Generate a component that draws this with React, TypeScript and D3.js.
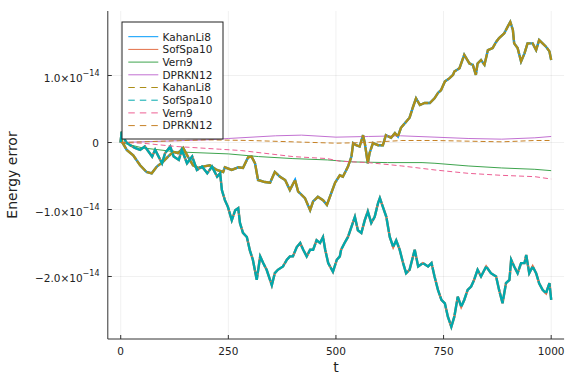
import React from 'react';
import * as d3 from 'd3';

const W = 576;
const H = 384;

// energy error, in units of 1e-14 as [t, value]
const kahanLi8: [number, number][] = [
  [0, 0], [2, 0.16], [3, 0.01], [14, -0.11], [29, -0.19], [45, -0.34], [60, -0.44], [72, -0.46],
  [84, -0.36], [98, -0.29], [110, -0.21], [122, -0.14], [133, -0.16], [145, -0.08], [156, -0.21],
  [168, -0.34], [180, -0.38], [191, -0.36], [207, -0.34], [223, -0.41], [238, -0.44], [242, -0.37],
  [258, -0.41], [273, -0.37], [284, -0.38], [296, -0.22], [304, -0.21], [312, -0.31], [319, -0.56],
  [335, -0.59], [347, -0.6], [358, -0.44], [370, -0.51], [382, -0.56], [393, -0.71], [405, -0.56],
  [412, -0.73], [428, -0.83], [440, -1.01], [447, -0.88], [458, -0.81], [470, -0.86], [479, -0.93],
  [486, -0.81], [498, -0.6], [509, -0.49], [516, -0.51], [528, -0.36], [536, -0.21], [540, -0.01],
  [547, -0.04], [555, -0.06], [563, 0.11], [567, -0.01], [574, -0.31], [578, -0.16], [586, -0.01],
  [598, -0.04], [609, -0.04], [616, 0.11], [628, 0.07], [637, 0.14], [644, 0.09], [651, 0.22],
  [663, 0.31], [671, 0.37], [679, 0.53], [686, 0.66], [695, 0.56], [706, 0.59], [718, 0.59],
  [729, 0.66], [737, 0.74], [744, 0.78], [753, 0.91], [764, 0.96], [772, 1.01], [775, 1.06],
  [787, 1.11], [798, 1.31], [810, 1.18], [818, 1.16], [825, 1.01], [829, 1.18], [837, 1.23],
  [845, 1.16], [853, 1.38], [864, 1.41], [872, 1.5], [879, 1.56], [891, 1.63], [899, 1.73],
  [905, 1.8], [911, 1.68], [914, 1.48], [922, 1.41], [930, 1.21], [938, 1.33], [945, 1.48],
  [957, 1.48], [965, 1.38], [972, 1.53], [980, 1.48], [988, 1.43], [996, 1.36], [1000, 1.23],
];

const sofSpa10: [number, number][] = [
  [0, 0], [2, 0.16], [12, 0.01], [22, -0.04], [33, -0.08], [45, -0.11], [56, -0.06], [73, -0.21],
  [80, -0.11], [96, -0.31], [103, -0.16], [115, -0.06], [123, -0.21], [135, -0.26], [142, -0.11],
  [154, -0.31], [166, -0.21], [177, -0.41], [189, -0.36], [201, -0.46], [212, -0.36], [224, -0.51],
  [231, -0.46], [235, -0.71], [242, -0.86], [249, -0.96], [258, -1.16], [266, -1.01], [273, -0.98],
  [277, -1.2], [284, -1.35], [293, -1.41], [300, -1.61], [307, -1.75], [316, -2.05], [324, -1.7],
  [331, -1.8], [339, -1.9], [351, -2.13], [358, -1.95], [365, -1.9], [377, -1.85], [386, -1.75],
  [393, -1.7], [400, -1.7], [409, -1.56], [417, -1.5], [424, -1.6], [432, -1.7], [440, -1.6],
  [447, -1.6], [455, -1.46], [463, -1.5], [470, -1.41], [475, -1.6], [482, -1.8], [493, -1.93],
  [502, -1.75], [509, -1.7], [512, -1.6], [520, -1.5], [528, -1.41], [536, -1.26], [544, -1.11],
  [551, -1.31], [559, -1.35], [567, -1.16], [574, -1.03], [582, -1.2], [590, -1.11], [598, -0.9],
  [602, -0.83], [609, -0.96], [617, -1.11], [625, -1.41], [633, -1.56], [640, -1.46], [648, -1.6],
  [656, -1.8], [663, -1.95], [671, -1.9], [683, -1.6], [691, -1.85], [702, -1.8], [714, -1.85],
  [722, -1.8], [729, -2.0], [737, -2.2], [745, -2.35], [753, -2.4], [760, -2.6], [768, -2.75],
  [775, -2.6], [783, -2.3], [791, -2.45], [798, -2.35], [806, -2.2], [814, -2.15], [821, -2.05],
  [829, -1.9], [837, -2.0], [849, -1.85], [860, -1.95], [872, -2.0], [879, -2.2], [887, -2.4],
  [895, -2.1], [903, -2.05], [907, -1.75], [914, -1.85], [922, -1.95], [930, -1.8], [938, -1.8],
  [942, -1.68], [949, -1.95], [957, -1.85], [965, -1.95], [972, -2.1], [980, -2.2], [988, -2.25],
  [996, -2.1], [1000, -2.35],
];

const vern9: [number, number][] = [
  [0, 0], [50, -0.08], [130, -0.14], [250, -0.17], [320, -0.21], [400, -0.24], [480, -0.26],
  [540, -0.29], [620, -0.3], [700, -0.3], [730, -0.31], [807, -0.35], [885, -0.38], [962, -0.4],
  [1000, -0.42],
];

const vern9b: [number, number][] = [
  [0, 0], [50, -0.01], [130, -0.06], [230, -0.1], [280, -0.12], [400, -0.21], [480, -0.24],
  [510, -0.28], [575, -0.3], [653, -0.35], [730, -0.41], [807, -0.46], [885, -0.49], [962, -0.51],
  [1000, -0.545],
];

const dprkn12: [number, number][] = [
  [0, 0], [100, 0.02], [200, 0.04], [250, 0.06], [360, 0.1], [420, 0.11], [500, 0.08],
  [575, 0.09], [650, 0.1], [730, 0.08], [807, 0.06], [885, 0.05], [962, 0.07], [1000, 0.09],
];

const dprkn12b: [number, number][] = [
  [0, 0], [50, 0.01], [200, 0.04], [300, 0.03], [400, 0.01], [500, -0.01], [575, 0],
  [653, 0.03], [730, 0.03], [807, 0.02], [885, 0.01], [962, 0.03], [1000, 0.03],
];

const series = [
  { name: 'KahanLi8', data: kahanLi8, color: '#009AFA', dash: false, noisy: true },
  { name: 'SofSpa10', data: sofSpa10, color: '#E36F47', dash: false, noisy: true },
  { name: 'Vern9', data: vern9, color: '#3EA44E', dash: false, noisy: false },
  { name: 'DPRKN12', data: dprkn12, color: '#C271D2', dash: false, noisy: false },
  { name: 'KahanLi8', data: kahanLi8, color: '#AC8E18', dash: true, noisy: true },
  { name: 'SofSpa10', data: sofSpa10, color: '#00A9AD', dash: true, noisy: true },
  { name: 'Vern9', data: vern9b, color: '#ED5E93', dash: true, noisy: false },
  { name: 'DPRKN12', data: dprkn12b, color: '#C68125', dash: true, noisy: false },
];

const xTicks = [0, 250, 500, 750, 1000];
const yTicks = [-2, -1, 0, 1];

const font = 'DejaVu Sans, sans-serif';

const App: React.FC = () => {
  const x = d3.scaleLinear().domain([-30, 1030]).range([107.8, 564.1]);
  const y = d3.scaleLinear().domain([-2.933, 1.963]).range([339, 11]);
  const line = d3
    .line<[number, number]>()
    .x((d) => x(d[0]))
    .y((d) => y(d[1]));

  const left = x.range()[0];
  const right = x.range()[1];
  const top = y.range()[1];
  const bottom = y.range()[0];

  const lgX = 122;
  const lgY = 22;
  const rowH = 12.7;

  return (
    <svg
      width={W}
      height={H}
      style={{ position: 'absolute', left: 0, top: 0, background: '#fff' }}
      fontFamily={font}
    >
      <rect width={W} height={H} fill="#fff" />
      {/* grid */}
      {xTicks.map((t) => (
        <line key={'gx' + t} x1={x(t)} x2={x(t)} y1={top} y2={bottom} stroke="#000" strokeOpacity={0.1} strokeWidth={0.6} />
      ))}
      {yTicks.map((t) => (
        <line key={'gy' + t} x1={left} x2={right} y1={y(t)} y2={y(t)} stroke="#000" strokeOpacity={0.1} strokeWidth={0.6} />
      ))}

      {/* series */}
      {series.map((s, i) => (
        <path
          key={i}
          d={line(s.data) || ''}
          fill="none"
          stroke={s.color}
          strokeWidth={s.noisy ? 2.4 : 1}
          strokeDasharray={s.dash ? (s.noisy ? '14,1' : '5,3') : undefined}
        />
      ))}

      {/* axes */}
      <line x1={left} x2={left} y1={top} y2={bottom} stroke="#333" strokeWidth={1} />
      <line x1={left} x2={right} y1={bottom} y2={bottom} stroke="#333" strokeWidth={1} />
      {xTicks.map((t) => (
        <g key={'xt' + t}>
          <line x1={x(t)} x2={x(t)} y1={bottom} y2={bottom - 4} stroke="#333" />
          <text x={x(t)} y={bottom + 16} textAnchor="middle" fontSize={10.5} fill="#222">
            {t}
          </text>
        </g>
      ))}
      {yTicks.map((t) => (
        <g key={'yt' + t}>
          <line x1={left} x2={left + 4} y1={y(t)} y2={y(t)} stroke="#333" />
          {t === 0 ? (
            <text x={99} y={y(t) + 4} textAnchor="end" fontSize={10.5} fill="#222">
              0
            </text>
          ) : (
            <text x={99.5} y={y(t) + 6} textAnchor="end" fontSize={10.5} fill="#222">
              {(t < 0 ? '\u2212' : '') + Math.abs(t).toFixed(1) + '\u00d710'}
              <tspan dy={-6} fontSize={8}>
                {'\u221214'}
              </tspan>
            </text>
          )}
        </g>
      ))}
      <text x={(left + right) / 2} y={372} textAnchor="middle" fontSize={14} fill="#222">
        t
      </text>
      <text
        transform={`translate(17,${(top + bottom) / 2}) rotate(-90)`}
        textAnchor="middle"
        fontSize={14}
        fill="#222"
      >
        Energy error
      </text>

      {/* legend */}
      <rect x={lgX} y={lgY} width={101} height={117} fill="#fff" stroke="#222" strokeWidth={1} />
      {series.map((s, i) => (
        <g key={'lg' + i} transform={`translate(${lgX},${lgY + 14.7 + i * rowH})`}>
          <line x1={6.3} x2={36.3} y1={0} y2={0} stroke={s.color} strokeWidth={1} strokeDasharray={s.dash ? '6.5,5' : undefined} />
          <text x={40.5} y={3.8} fontSize={10.5} fill="#222">
            {s.name}
          </text>
        </g>
      ))}
    </svg>
  );
};

export default App;
